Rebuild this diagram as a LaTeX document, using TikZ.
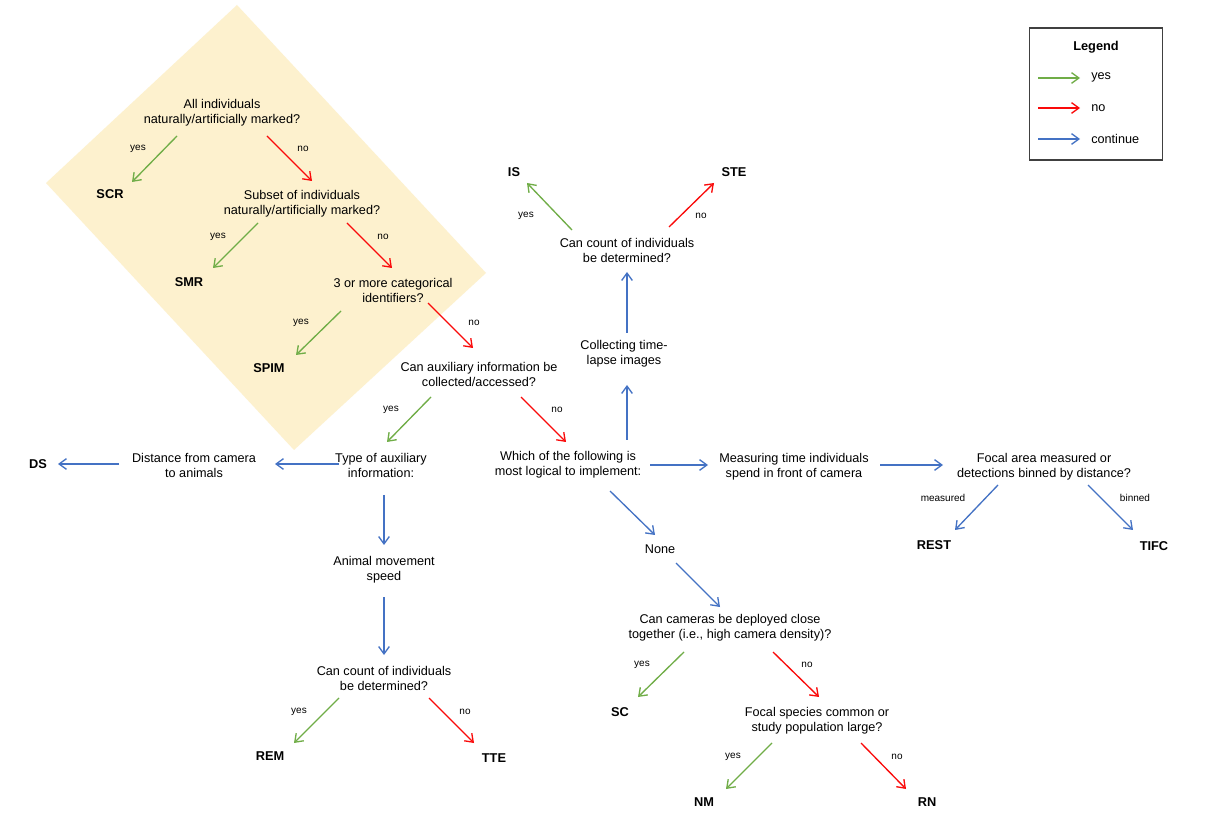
\documentclass[tikz,border=0pt]{standalone}
\usepackage{fontspec}
\setmainfont{Liberation Sans}
\usetikzlibrary{arrows.meta,calc}
\definecolor{yesc}{RGB}{112,173,71}
\definecolor{noc}{RGB}{250,10,10}
\definecolor{contc}{RGB}{68,114,196}
\definecolor{cream}{RGB}{253,241,206}
\definecolor{boxc}{RGB}{64,64,64}
\begin{document}
\begin{tikzpicture}[x=0.75pt,y=-0.75pt,
  txt/.style={align=center,font=\fontsize{9.5}{11.25}\selectfont,inner sep=0pt},
  res/.style={font=\fontsize{9.6}{11}\selectfont\bfseries,inner sep=0pt},
  lab/.style={font=\fontsize{7.5}{9}\selectfont,inner sep=0pt},
  arr/.style={line width=1pt,-{Straight Barb[length=5.5pt,width=8pt]}},
  yesar/.style={arr,draw=yesc},
  noar/.style={arr,draw=noc},
  contar/.style={arr,draw=contc}]
\useasboundingbox[fill=white] (0,0) rectangle (1221,837);
% highlighted region
\fill[cream] (237,5) -- (486,273) -- (294,450) -- (46,183) -- cycle;
% nodes
\node[txt] (q1) at (222,113) {All individuals\\naturally/artificially marked?};
\node[res] (scr) at (110,194) {SCR};
\node[txt] (q2) at (302,204) {Subset of individuals\\naturally/artificially marked?};
\node[res] (smr) at (189,282) {SMR};
\node[txt] (q3) at (393,290) {3 or more categorical\\identifiers?};
\node[res] (spim) at (269,368) {SPIM};
\node[txt] (q4) at (479,374) {Can auxiliary information be\\collected/accessed?};
\node[txt] (type) at (381,465) {Type of auxiliary\\information:};
\node[txt] (dist) at (194,465) {Distance from camera\\to animals};
\node[res] (ds) at (38,464) {DS};
\node[txt] (speed) at (384,570) {Animal movement\\speed};
\node[txt] (count1) at (384,678) {Can count of individuals\\be determined?};
\node[res] (rem) at (270,756) {REM};
\node[res] (tte) at (494,758) {TTE};
\node[txt] (which) at (568,465) {Which of the following is\\most logical to implement:};
\node[txt] (tl) at (624,354) {Collecting time-\\lapse images};
\node[txt] (count2) at (627,250) {Can count of individuals\\be determined?};
\node[res] (is) at (514,172) {IS};
\node[res] (ste) at (734,172) {STE};
\node[txt] (meas) at (794,467) {Measuring time individuals\\spend in front of camera};
\node[txt] (focal) at (1044,467) {Focal area measured or\\detections binned by distance?};
\node[res] (rest) at (934,545) {REST};
\node[res] (tifc) at (1154,546) {TIFC};
\node[txt] (none) at (660,549) {None};
\node[txt] (cams) at (730,628) {Can cameras be deployed close\\together (i.e., high camera density)?};
\node[res] (sc) at (620,712) {SC};
\node[txt] (common) at (817,721) {Focal species common or\\study population large?};
\node[res] (nm) at (704,802) {NM};
\node[res] (rn) at (927,802) {RN};
% connectors
\draw[yesar] ($(q1)+(-45,23)$) -- ($(scr)+(22,-12)$);
\draw[noar] ($(q1)+(45,23)$) -- ($(q2)+(10,-23)$);
\node[lab] at (138,149) {yes};
\node[lab] at (303,149) {no};
\draw[yesar] ($(q2)+(-44,19)$) -- ($(smr)+(24,-14)$);
\draw[noar] ($(q2)+(45,19)$) -- ($(q3)+(-1,-22)$);
\node[lab] at (218,237) {yes};
\node[lab] at (383,237) {no};
\draw[yesar] ($(q3)+(-52,21)$) -- ($(spim)+(27,-13)$);
\draw[noar] ($(q3)+(35,13)$) -- ($(q4)+(-6,-26)$);
\node[lab] at (301,323) {yes};
\node[lab] at (474,323) {no};
\draw[yesar] ($(q4)+(-48,23)$) -- ($(type)+(6,-23)$);
\draw[noar] ($(q4)+(42,23)$) -- ($(which)+(-2,-23)$);
\node[lab] at (391,410) {yes};
\node[lab] at (557,410) {no};
\draw[contar] ($(type)+(-42,-1)$) -- ($(dist)+(81,-1)$);
\draw[contar] ($(dist)+(-75,-1)$) -- ($(ds)+(20,0)$);
\draw[contar] ($(type)+(3,30)$) -- ($(speed)+(0,-25)$);
\draw[contar] ($(speed)+(0,27)$) -- ($(count1)+(0,-23)$);
\draw[yesar] ($(count1)+(-45,20)$) -- ($(rem)+(24,-13)$);
\draw[noar] ($(count1)+(45,20)$) -- ($(tte)+(-20,-15)$);
\node[lab] at (299,712) {yes};
\node[lab] at (465,712) {no};
\draw[contar] ($(which)+(59,-25)$) -- ($(tl)+(3,31)$);
\draw[contar] ($(tl)+(3,-21)$) -- ($(count2)+(0,22)$);
\draw[yesar] ($(count2)+(-55,-20)$) -- ($(is)+(13,11)$);
\draw[noar] ($(count2)+(42,-23)$) -- ($(ste)+(-20,11)$);
\node[lab] at (526,216) {yes};
\node[lab] at (701,216) {no};
\draw[contar] ($(which)+(82,0)$) -- ($(meas)+(-86,-2)$);
\draw[contar] ($(meas)+(86,-2)$) -- ($(focal)+(-101,-2)$);
\draw[contar] ($(focal)+(-46,18)$) -- ($(rest)+(21,-15)$);
\draw[contar] ($(focal)+(44,18)$) -- ($(tifc)+(-21,-16)$);
\node[lab] at (943,498) {measured};
\node[lab] at (1135,498) {binned};
\draw[contar] ($(which)+(42,26)$) -- ($(none)+(-5,-14)$);
\draw[contar] ($(none)+(16,14)$) -- ($(cams)+(-10,-21)$);
\draw[yesar] ($(cams)+(-46,24)$) -- ($(sc)+(18,-15)$);
\draw[noar] ($(cams)+(43,24)$) -- ($(common)+(2,-24)$);
\node[lab] at (642,665) {yes};
\node[lab] at (807,665) {no};
\draw[yesar] ($(common)+(-45,22)$) -- ($(nm)+(22,-13)$);
\draw[noar] ($(common)+(44,22)$) -- ($(rn)+(-21,-13)$);
\node[lab] at (733,757) {yes};
\node[lab] at (897,757) {no};
% legend
\node[draw=boxc,line width=1pt,minimum width=133*0.75pt,minimum height=132*0.75pt,inner sep=0pt] (legbox) at (1096,94) {};
\node[res] (legtitle) at (1096,47) {Legend};
\coordinate (ly1) at (1038,78); \coordinate (ly1e) at (1080,78);
\coordinate (ln1) at (1038,108); \coordinate (ln1e) at (1080,108);
\coordinate (lc1) at (1038,139); \coordinate (lc1e) at (1080,139);
\draw[yesar] (ly1) -- (ly1e);
\draw[noar] (ln1) -- (ln1e);
\draw[contar] (lc1) -- (lc1e);
\node[txt,anchor=west] (lyes) at (1091,77) {yes};
\node[txt,anchor=west] (lno) at (1091,108) {no};
\node[txt,anchor=west] (lcont) at (1091,139) {continue};
\end{tikzpicture}
\end{document}
